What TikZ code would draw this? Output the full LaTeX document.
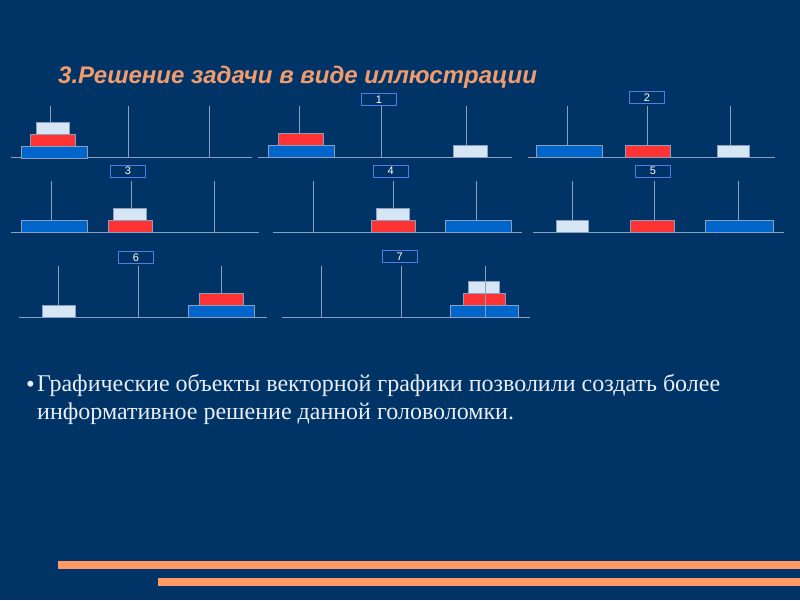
\documentclass[tikz,border=0pt]{standalone}
\usepackage{fontspec}
\setmainfont{Liberation Serif}
\setsansfont{Liberation Sans}
\definecolor{slide}{RGB}{0,51,102}
\definecolor{salmon}{RGB}{255,153,102}
\definecolor{title}{RGB}{242,156,110}
\definecolor{rodgray}{RGB}{140,160,190}
\definecolor{diskblue}{RGB}{0,102,204}
\definecolor{diskred}{RGB}{255,51,51}
\definecolor{diskwhite}{RGB}{214,230,245}
\definecolor{boxblue}{RGB}{90,120,230}
\definecolor{txt}{RGB}{232,238,246}
% disk: colour, left, right, bottom y
\newcommand{\disk}[4]{\filldraw[draw=rodgray,fill=#1] (#2,#4) rectangle (#3,{#4-12});}
\begin{document}
\begin{tikzpicture}[x=1pt,y=-1pt,line join=round,
    rod/.style={draw=rodgray,line width=0.8pt},
    stepno/.style={draw=boxblue,line width=0.8pt,text=white,font=\sffamily\fontsize{11}{11}\selectfont,
        minimum width=35pt,minimum height=12.3pt,inner sep=0pt}]
  \fill[slide] (0,0) rectangle (800,600);
  \useasboundingbox (0,0) rectangle (800,600);
  \node[anchor=base west,text=title,font=\sffamily\bfseries\itshape\fontsize{24}{24}\selectfont,inner sep=0pt]
    (head) at (58,83) {3.Решение задачи в виде иллюстрации};
  % start
  \draw[rod] (11,157.7)--(252,157.7);
  \foreach \p in {50.7,128.3,209.3} \draw[rod] (\p,105.7)--(\p,157.7);
  \disk{diskblue}{20.7}{86.7}{157.7}
  \disk{diskred}{30}{74.7}{145.7}
  \disk{diskwhite}{35.7}{68.7}{133.7}
  % step 1
  \draw[rod] (258,157.3)--(512,157.3);
  \foreach \p in {299.7,381.3,466.7} \draw[rod] (\p,105.7)--(\p,157.3);
  \node[stepno] (s1) at (379,99.5) {1};
  \disk{diskblue}{268.3}{334.3}{157.3}
  \disk{diskred}{278.3}{322.7}{145.3}
  \disk{diskwhite}{452.7}{486.7}{157.3}
  % step 2
  \draw[rod] (528,157.3)--(775,157.3);
  \foreach \p in {567.3,647.3,730.3} \draw[rod] (\p,105.7)--(\p,157.3);
  \node[stepno] (s2) at (646.8,97.5) {2};
  \disk{diskblue}{536.3}{602.3}{157.3}
  \disk{diskred}{625.3}{669.7}{157.3}
  \disk{diskwhite}{716.7}{749.3}{157.3}
  % step 3
  \draw[rod] (11,232.3)--(259,232.3);
  \foreach \p in {51.3,131.7,214.3} \draw[rod] (\p,180.7)--(\p,232.3);
  \node[stepno] (s3) at (128,171.2) {3};
  \disk{diskblue}{20.7}{87.3}{232.3}
  \disk{diskred}{108.3}{152.3}{232.3}
  \disk{diskwhite}{113.3}{146.3}{220.3}
  % step 4
  \draw[rod] (273,232.3)--(522,232.3);
  \foreach \p in {313.3,393.3,476.7} \draw[rod] (\p,180.7)--(\p,232.3);
  \node[stepno] (s4) at (390.8,171.2) {4};
  \disk{diskred}{371.3}{414.7}{232.3}
  \disk{diskwhite}{376.3}{409.3}{220.3}
  \disk{diskblue}{445.3}{511.3}{232.3}
  % step 5
  \draw[rod] (533,232.3)--(784,232.3);
  \foreach \p in {572.3,654.3,738.3} \draw[rod] (\p,180.7)--(\p,232.3);
  \node[stepno] (s5) at (653,171.2) {5};
  \disk{diskwhite}{555.7}{588.3}{232.3}
  \disk{diskred}{630.3}{673.7}{232.3}
  \disk{diskblue}{705.3}{772.7}{232.3}
  % step 6
  \draw[rod] (19,317.3)--(267,317.3);
  \foreach \p in {58.7,138.3,221.3} \draw[rod] (\p,265.7)--(\p,317.3);
  \node[stepno] (s6) at (136,257.3) {6};
  \disk{diskwhite}{42.3}{75.3}{317.3}
  \disk{diskblue}{188.3}{254.3}{317.3}
  \disk{diskred}{199.3}{242.7}{305.3}
  % step 7
  \draw[rod] (282,317.3)--(530,317.3);
  \disk{diskblue}{450.3}{517.7}{317.3}
  \disk{diskred}{463.3}{504.7}{305.3}
  \disk{diskwhite}{468.3}{499.3}{293.3}
  \foreach \p in {321.3,401.7,485.3} \draw[rod] (\p,265.7)--(\p,317.3);
  \node[stepno] (s7) at (399.8,256.3) {7};
  % bullet text
  \node[anchor=base,text=txt,font=\sffamily\fontsize{22}{22}\selectfont,inner sep=0pt] (dot) at (30.5,391) {•};
  \node[anchor=base west,align=left,text=txt,font=\fontsize{24}{28}\selectfont,inner sep=0pt] (note) at (37,419)
    {Графические объекты векторной графики позволили создать более\\информативное решение данной головоломки.};
  % bars
  \fill[salmon] (58,561) rectangle (800,569);
  \fill[salmon] (157.7,578) rectangle (800,586);
\end{tikzpicture}
\end{document}
